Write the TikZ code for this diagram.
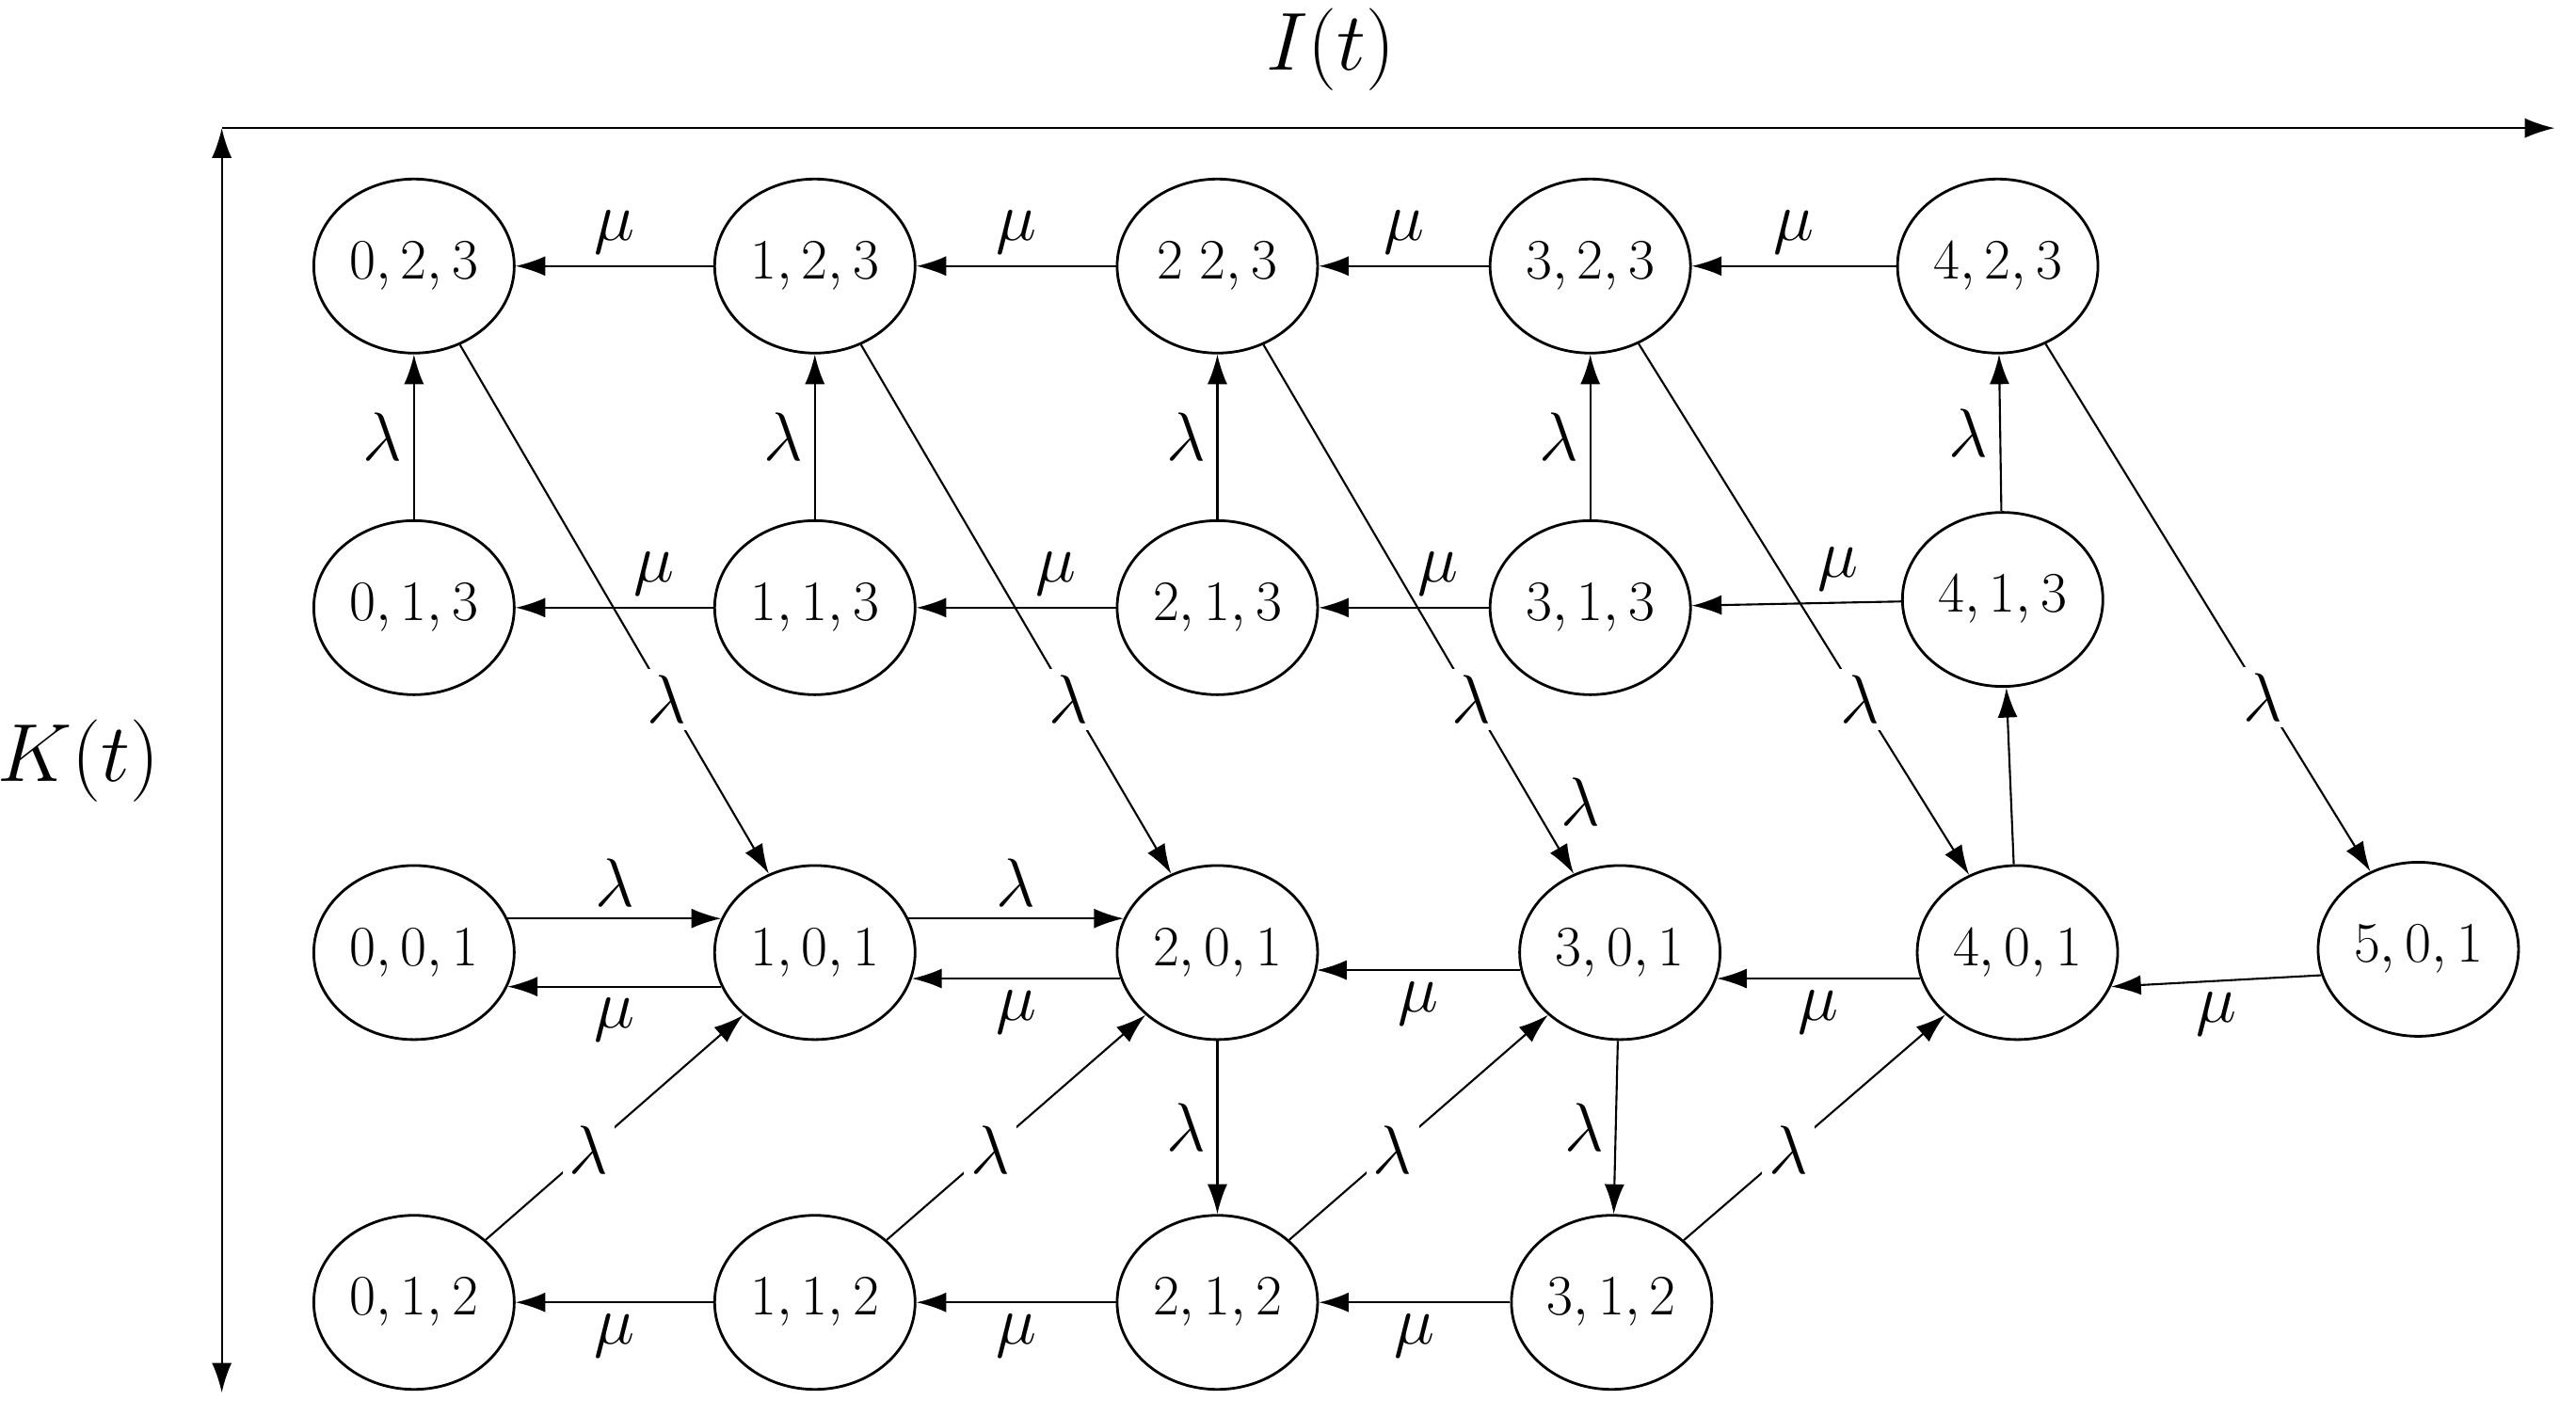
\documentclass[tikz,border=0pt]{standalone}
\usetikzlibrary{arrows.meta,shapes.geometric}
\begin{document}
\begin{tikzpicture}[x=0.017455cm,y=-0.017455cm,
 st/.style={draw,ellipse,minimum width=2.13cm,minimum height=1.85cm,inner sep=0pt,line width=0.8pt,font=\fontsize{17}{20}\selectfont},
 ar/.style={-{Latex[length=9pt,width=6pt]},line width=0.6pt},
 lb/.style={font=\fontsize{22}{24}\selectfont},
 lw/.style={lb,fill=white,inner sep=2pt}]
\useasboundingbox (0,0) rectangle (1568,862);
\node[st] (a023) at (252,162) {$0,2,3$};
\node[st] (a123) at (496,162) {$1,2,3$};
\node[st] (a223) at (741,162) {$2\;2,3$};
\node[st] (a323) at (968,162) {$3,2,3$};
\node[st] (a423) at (1216,162) {$4,2,3$};
\node[st] (a013) at (252,370) {$0,1,3$};
\node[st] (a113) at (496,370) {$1,1,3$};
\node[st] (a213) at (741,370) {$2,1,3$};
\node[st] (a313) at (968,370) {$3,1,3$};
\node[st] (a413) at (1219,365) {$4,1,3$};
\node[st] (a001) at (252,580) {$0,0,1$};
\node[st] (a101) at (496,580) {$1,0,1$};
\node[st] (a201) at (741,580) {$2,0,1$};
\node[st] (a301) at (986,580) {$3,0,1$};
\node[st] (a401) at (1228,580) {$4,0,1$};
\node[st] (a501) at (1472,578) {$5,0,1$};
\node[st] (a012) at (252,793) {$0,1,2$};
\node[st] (a112) at (496,793) {$1,1,2$};
\node[st] (a212) at (741,793) {$2,1,2$};
\node[st] (a312) at (981,793) {$3,1,2$};
% axes
\coordinate (o) at (135,78); \coordinate (xe) at (1555,78); \coordinate (ye) at (135,848);
\draw[ar] (o) -- (xe);
\draw[{Latex[length=9pt,width=6pt]}-{Latex[length=9pt,width=6pt]},line width=0.6pt] (o) -- (ye);
\node[font=\fontsize{26}{28}\selectfont] (it) at (810,30) {$I(t)$};
\node[font=\fontsize{26}{28}\selectfont] (kt) at (48,463) {$K(t)$};
% row1 mu
\foreach \s/\t in {a123/a023,a223/a123,a323/a223,a423/a323}
 \draw[ar] (\s) -- node[lb,above]{$\mu$} (\t);
% row2 mu
\foreach \s/\t in {a113/a013,a213/a113,a313/a213,a413/a313}
 \draw[ar] (\s) -- node[lb,above,pos=0.3]{$\mu$} (\t);
% row4 mu
\foreach \s/\t in {a112/a012,a212/a112,a312/a212}
 \draw[ar] (\s) -- node[lb,below]{$\mu$} (\t);
% row3
\draw[ar] (a001.20) -- node[lb,above]{$\lambda$} (a101.160);
\draw[ar] (a101.200) -- node[lb,below]{$\mu$} (a001.-20);
\draw[ar] (a101.20) -- node[lb,above]{$\lambda$} (a201.160);
\draw[ar] (a201.195) -- node[lb,below]{$\mu$} (a101.-15);
\draw[ar] (a301.190) -- node[lb,below]{$\mu$} (a201.-10);
\draw[ar] (a401.195) -- node[lb,below]{$\mu$} (a301.-15);
\draw[ar] (a501.195) -- node[lb,below]{$\mu$} (a401.-20);
% vertical up lambda
\foreach \s/\t in {a013/a023,a113/a123,a213/a223,a313/a323,a413/a423}
 \draw[ar] (\s) -- node[lb,left]{$\lambda$} (\t);
\draw[ar] (a401) -- (a413);
% down lambda
\draw[ar] (a201) -- node[lb,left]{$\lambda$} (a212);
\draw[ar] (a301) -- node[lb,left]{$\lambda$} (a312);
% long diagonals
\foreach \s/\t in {a023/a101,a123/a201,a223/a301,a323/a401,a423/a501}
 \draw[ar] (\s) -- node[lw,pos=0.67]{$\lambda$} (\t);
\node[lb] (extra) at (962,488) {$\lambda$};
% up diagonals
\foreach \s/\t in {a012/a101,a112/a201,a212/a301,a312/a401}
 \draw[ar] (\s) -- node[lw,pos=0.4]{$\lambda$} (\t);
\end{tikzpicture}
\end{document}
